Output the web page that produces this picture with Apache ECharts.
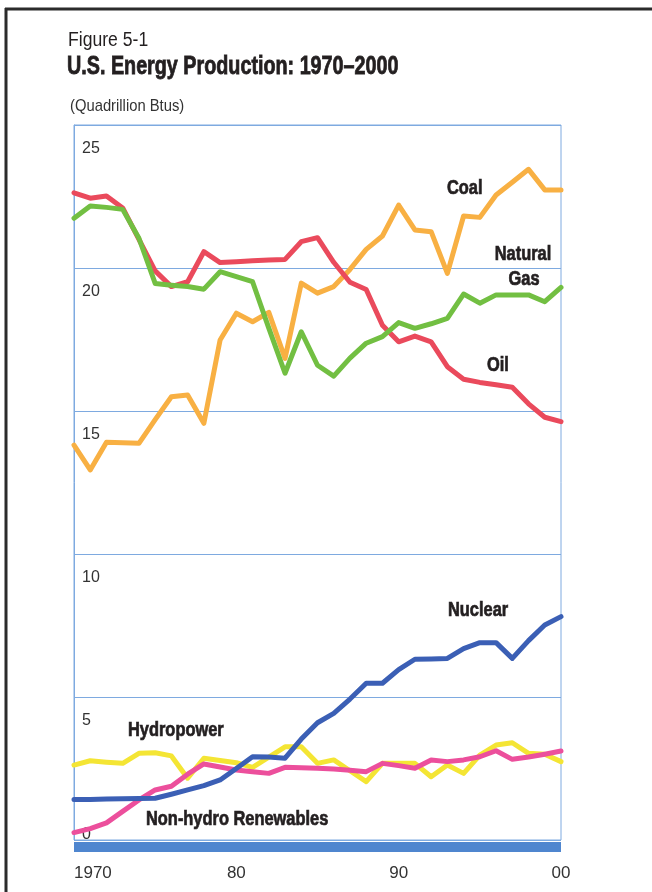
<!DOCTYPE html>
<html>
<head>
<meta charset="utf-8">
<title>U.S. Energy Production: 1970–2000</title>
<script src="https://cdn.jsdelivr.net/npm/echarts@6/dist/echarts.min.js"></script>
<style>
  html, body { margin: 0; padding: 0; background: #fff; }
  #chart { width: 652px; height: 892px; }
</style>
</head>
<body>
<div id="chart"></div>
<script>
// --- data (quadrillion Btu) ---
const years = [1970, 1971, 1972, 1973, 1974, 1975, 1976, 1977, 1978, 1979,
               1980, 1981, 1982, 1983, 1984, 1985, 1986, 1987, 1988, 1989,
               1990, 1991, 1992, 1993, 1994, 1995, 1996, 1997, 1998, 1999, 2000];
const coal = [13.81, 12.94, 13.91, 13.89, 13.87, 14.7, 15.5, 15.56, 14.57, 17.48,
              18.42, 18.12, 18.45, 16.84, 19.47, 19.12, 19.35, 19.95, 20.65, 21.12,
              22.2, 21.33, 21.27, 19.81, 21.82, 21.77, 22.55, 23.0, 23.45, 22.73, 22.73];
const oil = [22.63, 22.44, 22.52, 22.1, 21.0, 19.9, 19.35, 19.52, 20.57, 20.19,
             20.22, 20.25, 20.28, 20.3, 20.92, 21.06, 20.2, 19.5, 19.25, 18.0,
             17.42, 17.62, 17.42, 16.55, 16.11, 16.0, 15.92, 15.83, 15.25, 14.78, 14.63];
const gas = [21.74, 22.17, 22.12, 22.05, 21.04, 19.46, 19.4, 19.35, 19.26, 19.87,
             19.7, 19.52, 17.9, 16.32, 17.77, 16.6, 16.22, 16.85, 17.37, 17.6,
             18.09, 17.89, 18.05, 18.24, 19.09, 18.77, 19.06, 19.06, 19.06, 18.82, 19.32];
const nuclear = [1.42, 1.42, 1.43, 1.44, 1.45, 1.46, 1.6, 1.75, 1.9, 2.1,
                 2.5, 2.91, 2.9, 2.86, 3.53, 4.1, 4.43, 4.93, 5.48, 5.48,
                 5.96, 6.32, 6.33, 6.35, 6.69, 6.9, 6.9, 6.35, 6.97, 7.52, 7.81];
const hydro = [2.62, 2.77, 2.72, 2.68, 3.03, 3.05, 2.94, 2.16, 2.86, 2.78,
               2.7, 2.54, 2.9, 3.26, 3.26, 2.68, 2.8, 2.42, 2.04, 2.68,
               2.68, 2.68, 2.21, 2.62, 2.33, 2.97, 3.32, 3.4, 3.03, 3.0, 2.74];
const renew = [0.26, 0.4, 0.6, 1.0, 1.4, 1.75, 1.88, 2.3, 2.66, 2.55,
               2.45, 2.39, 2.33, 2.54, 2.53, 2.51, 2.48, 2.44, 2.39, 2.68,
               2.6, 2.51, 2.8, 2.74, 2.8, 2.91, 3.12, 2.82, 2.9, 3.0, 3.11];

// no condensed face installed, so Liberation Sans gets squeezed with scaleX
const SANS = "'Liberation Sans', Arial, sans-serif";
const GRID_BLUE = "#7eaae0";
const INK = "#231f20";

const pairs = (vals) => years.map((y, i) => [y, vals[i]]);
const line = (name, vals, color) => ({
  name, type: "line", data: pairs(vals), symbol: "none", silent: true,
  lineStyle: { color, width: 5, join: "round", cap: "round" }
});

const text = (str, x, y, font, sx, align, fill, heavy) => ({
  type: "text", x, y, scaleX: sx, silent: true,
  style: {
    text: str, fill: fill || INK, font, align: align || "left", verticalAlign: "middle",
    stroke: heavy ? INK : null, lineWidth: heavy || 0
  }
});
// labels in the figure are a black condensed face: bold + thin stroke
const label = (str, x, y, align) => text(str, x, y, "bold 20px " + SANS, 0.82, align, INK, 0.7);

const chart = echarts.init(document.getElementById("chart"));
chart.setOption({
  animation: false,
  backgroundColor: "#fff",
  grid: { left: 74, right: 91, top: 125, bottom: 52, show: true, borderColor: GRID_BLUE, borderWidth: 1 },
  xAxis: {
    type: "value", min: 1970, max: 2000, interval: 10, offset: 7,
    axisLine: { show: true, onZero: false, lineStyle: { color: "#4f86cf", width: 10, cap: "butt" } },
    axisTick: { show: false }, splitLine: { show: false },
    axisLabel: {
      margin: 18, color: "#333", fontSize: 17, fontFamily: SANS, alignMinLabel: "left",
      formatter: (v) => v === 1970 ? "1970" : String(v % 100).padStart(2, "0")
    }
  },
  yAxis: {
    type: "value", min: 0, max: 25, interval: 5,
    axisLine: { show: true, lineStyle: { color: GRID_BLUE, width: 1 } },
    axisTick: { show: false },
    splitLine: { show: true, lineStyle: { color: GRID_BLUE, width: 1 } },
    axisLabel: {
      inside: true, margin: 8, verticalAlign: "middle",
      formatter: (v) => v === 0 ? "{z|0}" : "{n|" + v + "}",
      rich: {
        n: { color: "#333", fontSize: 16, fontFamily: SANS, padding: [48, 0, 0, 0] },
        z: { color: "#333", fontSize: 16, fontFamily: SANS, padding: [0, 0, 10, 0] }
      }
    }
  },
  series: [
    line("Coal", coal, "#f8b043"),
    line("Oil", oil, "#ea4a5c"),
    line("Natural Gas", gas, "#72bf42"),
    line("Hydropower", hydro, "#f4e534"),
    line("Non-hydro Renewables", renew, "#ec4f9c"),
    line("Nuclear", nuclear, "#3b5fb5")
  ],
  graphic: [
    // frame
    { type: "line", silent: true, shape: { x1: 5, y1: 9, x2: 652, y2: 9 }, style: { stroke: "#2b2b2b", lineWidth: 3 } },
    { type: "line", silent: true, shape: { x1: 6, y1: 8, x2: 6, y2: 892 }, style: { stroke: "#2b2b2b", lineWidth: 3 } },
    // headings
    text("Figure 5-1", 68, 40, "20px " + SANS, 0.88),
    text("U.S. Energy Production: 1970–2000", 67, 67, "bold 25px " + SANS, 0.79, "left", INK, 0.8),
    text("(Quadrillion Btus)", 70, 106, "17px " + SANS, 0.87, "left", "#333"),
    // series labels
    label("Coal", 447, 188),
    label("Natural", 523, 254, "center"),
    label("Gas", 524, 279, "center"),
    label("Oil", 487, 365),
    label("Nuclear", 448, 610),
    label("Hydropower", 128, 730),
    label("Non-hydro Renewables", 146, 819)
  ]
});
</script>
</body>
</html>
